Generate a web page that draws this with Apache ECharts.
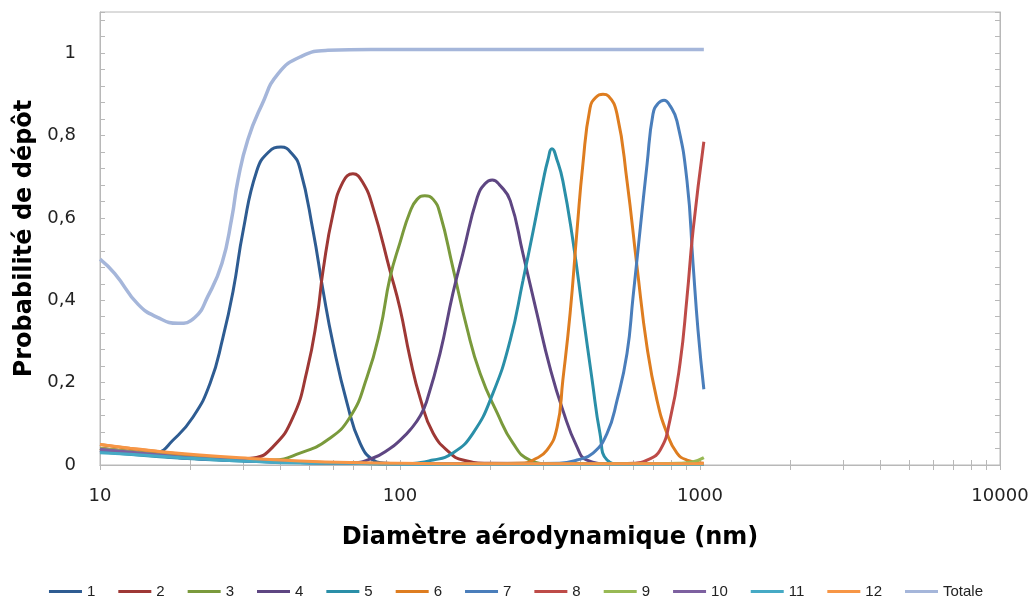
<!DOCTYPE html>
<html>
<head>
<meta charset="utf-8">
<script src="https://cdn.jsdelivr.net/npm/echarts@6/dist/echarts.min.js"></script>
<style>html,body{margin:0;padding:0;background:#fff}#c{width:1032px;height:610px}</style>
</head>
<body>
<div id="c"></div>
<script>
// Diameter (nm) / deposition probability pairs
const names = ['1','2','3','4','5','6','7','8','9','10','11','12','Totale'];
const colors = ['#2E5C92','#9E3835','#7A9A3C','#5E4682','#2A8FA8','#DE7D20','#4A7EBB','#BE4B48','#98B954','#7D60A0','#46AAC5','#F79646','#A5B6DA'];
const s1 = [[10,0.035],[12.6,0.029],[14.1,0.027],[15.5,0.03],[17.5,0.06],[20.4,0.116],[23.3,0.199],[25.7,0.31],[27.8,0.424],[30,0.569],[33.3,0.714],[36.5,0.76],[40.1,0.772],[43.5,0.757],[46.4,0.72],[51.3,0.569],[55.4,0.424],[59.8,0.295],[66.6,0.15],[73.6,0.053],[81.3,0.012],[87.8,0.005],[100,0.003],[200,0.001],[1030,0.001]];
const s2 = [[10,0.04],[12.6,0.032],[15.8,0.025],[21.5,0.018],[27.5,0.014],[32.4,0.017],[37.7,0.044],[44,0.116],[49,0.23],[52.9,0.358],[55.4,0.472],[59.8,0.61],[64.5,0.687],[69.7,0.707],[75,0.687],[81.3,0.625],[92.6,0.472],[100,0.38],[108,0.26],[117,0.16],[129,0.077],[147,0.029],[162,0.012],[200,0.004],[1030,0.001]];
const s3 = [[10,0.04],[15.8,0.025],[21.5,0.017],[31.6,0.011],[37.7,0.012],[46.4,0.029],[57.1,0.06],[68.1,0.116],[77.6,0.213],[85.8,0.327],[92.6,0.455],[100,0.54],[108,0.615],[114,0.645],[121,0.654],[129,0.645],[136,0.61],[150,0.48],[167,0.334],[185,0.222],[211,0.126],[238,0.053],[271,0.012],[316,0.003],[1030,0.001]];
const s4 = [[10,0.035],[15.8,0.022],[21.5,0.015],[31.6,0.01],[46.4,0.006],[68.1,0.005],[81.3,0.017],[92.6,0.04],[100,0.06],[108,0.085],[117,0.12],[123,0.157],[136,0.271],[150,0.416],[162,0.513],[181,0.65],[192,0.683],[203,0.692],[216,0.678],[233,0.642],[257,0.513],[286,0.368],[316,0.237],[349,0.133],[389,0.044],[420,0.012],[500,0.003],[1030,0.001]];
const s5 = [[10,0.032],[15.8,0.02],[21.5,0.014],[31.6,0.009],[46.4,0.006],[68.1,0.004],[100,0.003],[129,0.012],[150,0.029],[175,0.077],[204,0.174],[233,0.303],[257,0.448],[278,0.569],[300,0.69],[311,0.74],[321,0.768],[334,0.74],[349,0.69],[377,0.545],[407,0.368],[437,0.206],[464,0.077],[490,0.012],[550,0.002],[1030,0.001]];
const s6 = [[10,0.05],[12.6,0.04],[15.8,0.032],[21.5,0.022],[31.6,0.014],[46.4,0.008],[68.1,0.005],[100,0.003],[200,0.003],[260,0.005],[278,0.012],[309,0.036],[334,0.092],[349,0.206],[369,0.368],[389,0.569],[407,0.73],[430,0.867],[450,0.893],[475,0.9],[495,0.896],[529,0.852],[571,0.69],[617,0.48],[666,0.286],[719,0.157],[776,0.077],[838,0.029],[905,0.012],[1030,0.004]];
const s7 = [[10,0.035],[15.8,0.022],[21.5,0.015],[31.6,0.01],[46.4,0.006],[68.1,0.004],[100,0.003],[200,0.002],[340,0.004],[389,0.012],[440,0.029],[490,0.077],[529,0.157],[571,0.271],[598,0.407],[631,0.569],[666,0.73],[697,0.852],[725,0.878],[759,0.886],[795,0.872],[838,0.835],[905,0.69],[948,0.489],[985,0.327],[1030,0.184]];
const s8 = [[10,0.04],[15.8,0.025],[21.5,0.017],[31.6,0.011],[46.4,0.007],[68.1,0.004],[100,0.003],[200,0.002],[500,0.002],[600,0.004],[666,0.012],[736,0.036],[794,0.109],[858,0.247],[905,0.407],[948,0.569],[1030,0.785]];
const s9 = [[10,0.04],[15.8,0.025],[21.5,0.017],[31.6,0.011],[46.4,0.007],[68.1,0.004],[100,0.003],[200,0.002],[700,0.003],[850,0.004],[950,0.008],[1030,0.018]];
const s10 = [[10,0.038],[15.8,0.024],[21.5,0.016],[31.6,0.01],[46.4,0.006],[68.1,0.004],[100,0.003],[200,0.002],[1030,0.001]];
const s11 = [[10,0.03],[12.6,0.026],[15.8,0.021],[21.5,0.015],[31.6,0.009],[46.4,0.005],[68.1,0.004],[100,0.002],[1030,0.001]];
const s12 = [[10,0.05],[12.6,0.041],[15.8,0.033],[21.5,0.024],[31.6,0.016],[46.4,0.01],[68.1,0.006],[100,0.004],[200,0.003],[1030,0.003]];
const totale = [[10,0.5],[11.2,0.465],[13.4,0.39],[15.6,0.358],[18.2,0.344],[20.7,0.358],[22.9,0.41],[25.5,0.49],[27.5,0.6],[28.8,0.69],[31.1,0.79],[34.7,0.876],[39.2,0.95],[47.1,0.993],[57.5,1.007],[80,1.009],[1030,1.009]];
const allSeries = [s1,s2,s3,s4,s5,s6,s7,s8,s9,s10,s11,s12,totale];
const xTickValues = [10,20,30,40,50,60,70,80,90,100,200,300,400,500,600,700,800,900,1000,2000,3000,4000,5000,6000,7000,8000,9000,10000];

const chart = echarts.init(document.getElementById('c'));
const grey = '#b8b8b8';
const xBase = {
  type: 'log', logBase: 10, min: 10, max: 10000,
  axisLine: { show: true, lineStyle: { color: grey, width: 1 } },
  axisTick: { show: true, inside: true, length: 5, lineStyle: { color: grey }, customValues: xTickValues },
  splitLine: { show: false }
};
const yBase = {
  type: 'value', min: 0, max: 1.1, interval: 0.2,
  axisLine: { show: true, lineStyle: { color: grey, width: 1 } },
  axisTick: { show: true, inside: true, length: 5, lineStyle: { color: grey } },
  minorTick: { show: true, splitNumber: 5, length: 5, lineStyle: { color: grey } },
  splitLine: { show: false }
};
chart.setOption({
  animation: false,
  backgroundColor: '#fff',
  grid: { left: 100, right: 32, top: 12, bottom: 145, show: true, borderColor: grey, borderWidth: 1 },
  xAxis: [
    Object.assign({}, xBase, {
      position: 'bottom',
      name: 'Diamètre aérodynamique (nm)', nameLocation: 'middle', nameGap: 61,
      nameTextStyle: { fontFamily: 'DejaVu Sans', fontWeight: 'bold', fontSize: 24, color: '#000' },
      axisLabel: { show: true, margin: 22, fontFamily: 'DejaVu Sans', fontSize: 18, color: '#222',
        formatter: function (v) { return String(v); } }
    }),
    Object.assign({}, xBase, { position: 'top', axisLabel: { show: false } })
  ],
  yAxis: [
    Object.assign({}, yBase, {
      position: 'left',
      name: 'Probabilité de dépôt', nameLocation: 'middle', nameGap: 47,
      nameTextStyle: { fontFamily: 'DejaVu Sans', fontWeight: 'bold', fontSize: 24, color: '#000' },
      axisLabel: { show: true, margin: 24, fontFamily: 'DejaVu Sans', fontSize: 18, color: '#222',
        formatter: function (v) {
          const r = Math.round(v * 5);
          if (Math.abs(v * 5 - r) > 1e-6) return '';
          return String(+(r / 5).toFixed(1)).replace('.', ',');
        } }
    }),
    Object.assign({}, yBase, { position: 'right', axisLabel: { show: false } })
  ],
  legend: {
    bottom: 6, left: 'center', icon: 'rect', itemWidth: 33, itemHeight: 3, itemGap: 23,
    textStyle: { fontFamily: 'Liberation Sans', fontSize: 15, color: '#222' },
    data: names
  },
  series: allSeries.map(function (d, i) {
    return {
      name: names[i], type: 'line', data: d, xAxisIndex: 0, yAxisIndex: 0,
      smooth: 0.5, showSymbol: false, symbol: 'none',
      lineStyle: { color: colors[i], width: i === 12 ? 3.5 : 3 },
      itemStyle: { color: colors[i] },
      z: 2
    };
  })
});
</script>
</body>
</html>
